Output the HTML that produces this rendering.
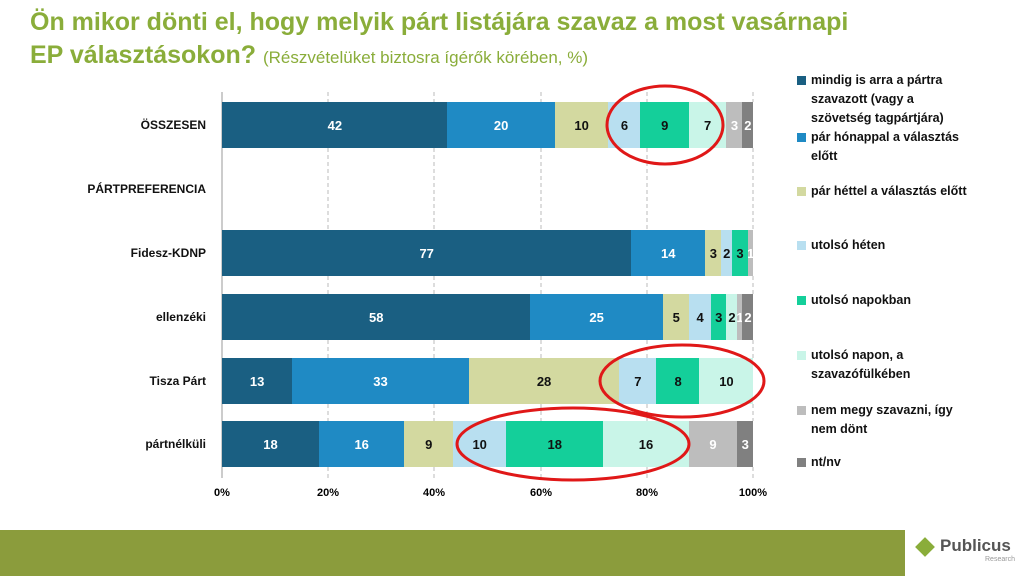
<!DOCTYPE html><html><head><meta charset="utf-8"><style>
body{margin:0;width:1024px;height:576px;background:#fff;position:relative;overflow:hidden;font-family:"Liberation Sans",sans-serif}
.t{position:absolute;left:30px;top:6px;color:#8aad3a;font-weight:bold;font-size:25px;line-height:33px}
.t span{font-weight:normal;font-size:17px}
.cat{position:absolute;width:200px;text-align:right;left:6px;font-weight:bold;font-size:12px;color:#111}
.seg{position:absolute;z-index:2;height:46px;display:flex;align-items:center;justify-content:center;font-weight:bold;font-size:13px;overflow:hidden}
.leg{position:absolute;left:797px;font-weight:bold;font-size:12.5px;line-height:19px;color:#111;white-space:nowrap;padding-left:14px}
.leg i{position:absolute;left:0;top:5px;width:9px;height:9px}
.ax{position:absolute;top:487px;font-size:11px;font-weight:bold;width:40px;text-align:center}
</style></head><body>
<div class="t">Ön mikor dönti el, hogy melyik párt listájára szavaz a most vasárnapi<br>EP választásokon? <span>(Részvételüket biztosra ígérők körében, %)</span></div>
<svg style="position:absolute;left:0;top:0" width="1024" height="576">
<g stroke="#bbb" stroke-dasharray="4,3" id="g"></g>
<line x1="222" y1="92" x2="222" y2="478" stroke="#999"/>
</svg>
<div id="bars"></div>
<div class="cat" style="top:118px">ÖSSZESEN</div>
<div class="cat" style="top:182px">PÁRTPREFERENCIA</div>
<div class="cat" style="top:246px">Fidesz-KDNP</div>
<div class="cat" style="top:310px">ellenzéki</div>
<div class="cat" style="top:374px">Tisza Párt</div>
<div class="cat" style="top:437px">pártnélküli</div>
<div class="ax" style="left:202px">0%</div><div class="ax" style="left:308px">20%</div><div class="ax" style="left:414px">40%</div><div class="ax" style="left:521px">60%</div><div class="ax" style="left:627px">80%</div><div class="ax" style="left:733px">100%</div>
<div class="leg" style="top:71px"><i style="background:#1a5f82"></i>mindig is arra a pártra<br>szavazott (vagy a<br>szövetség tagpártjára)</div>
<div class="leg" style="top:128px"><i style="background:#1f8ac4"></i>pár hónappal a választás<br>előtt</div>
<div class="leg" style="top:182px"><i style="background:#d3d9a0"></i>pár héttel a választás előtt</div>
<div class="leg" style="top:236px"><i style="background:#b8dff0"></i>utolsó héten</div>
<div class="leg" style="top:291px"><i style="background:#14cf9a"></i>utolsó napokban</div>
<div class="leg" style="top:346px"><i style="background:#c9f5e8"></i>utolsó napon, a<br>szavazófülkében</div>
<div class="leg" style="top:401px"><i style="background:#bdbdbd"></i>nem megy szavazni, így<br>nem dönt</div>
<div class="leg" style="top:453px"><i style="background:#808080"></i>nt/nv</div>
<svg style="position:absolute;left:0;top:0;z-index:3" width="1024" height="576" fill="none" stroke="#e01818" stroke-width="3">
<ellipse cx="665" cy="125" rx="58" ry="39"/><ellipse cx="682" cy="381" rx="82" ry="36"/><ellipse cx="573" cy="444" rx="116" ry="36"/>
</svg>
<div style="position:absolute;left:0;top:530px;width:1024px;height:46px;background:#8b9c3c"></div>
<div style="position:absolute;left:905px;top:530px;width:119px;height:46px;background:#fff"></div>
<div style="position:absolute;left:918px;top:540px;width:14px;height:14px;background:#8aad3a;transform:rotate(45deg)"></div>
<div style="position:absolute;left:940px;top:536px;font-weight:bold;font-size:17px;color:#555">Publicus</div>
<div style="position:absolute;left:985px;top:556px;font-size:7px;color:#999">Research</div>
<script>
var C=["#1a5f82","#1f8ac4","#d3d9a0","#b8dff0","#14cf9a","#c9f5e8","#bdbdbd","#808080"];
var T=["#fff","#fff","#111","#111","#111","#111","#fff","#fff"];
var D=[[102,[42,20,10,6,9,7,3,2]],[230,[77,14,3,2,3,0,1,0]],[294,[58,25,5,4,3,2,1,2]],[358,[13,33,28,7,8,10,0,0]],[421,[18,16,9,10,18,16,9,3]]];
var h="";D.forEach(function(r){var s=r[1].reduce(function(a,b){return a+b},0),x=222;r[1].forEach(function(v,i){if(!v)return;var w=v/s*531;h+='<div class="seg" style="left:'+x+'px;top:'+r[0]+'px;width:'+(w+0.5)+'px;background:'+C[i]+';color:'+T[i]+'">'+v+'</div>';x+=w;});});
document.getElementById("bars").innerHTML=h;
var gaps=[[92,102],[148,230],[276,294],[340,358],[404,421],[467,478]],g="";
[328,434,541,647,753].forEach(function(x){gaps.forEach(function(p){g+='<line x1="'+x+'" y1="'+p[0]+'" x2="'+x+'" y2="'+p[1]+'"/>';});});
document.getElementById("g").innerHTML=g;
</script>
</body></html>
